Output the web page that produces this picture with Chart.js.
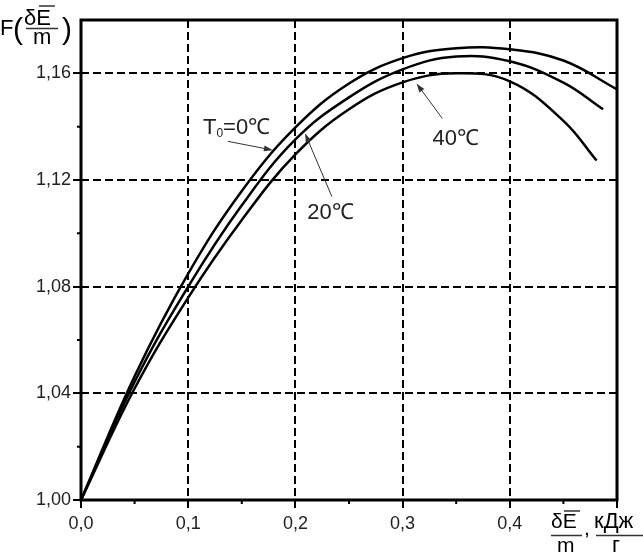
<!DOCTYPE html>
<html>
<head>
<meta charset="utf-8">
<script src="https://cdn.jsdelivr.net/npm/chart.js@4"></script>
<style>
  html, body { margin: 0; padding: 0; background: #fff; }
  canvas { display: block; }
</style>
</head>
<body>
<canvas id="chart" width="643" height="553"></canvas>
<script>
// Dados (δE/m em kJ/g, F adimensional)
const xT0 = [0, 0.05, 0.1, 0.15, 0.2, 0.25, 0.3, 0.35, 0.4, 0.45, 0.5];
const yT0 = [1.000, 1.0464, 1.0849, 1.1159, 1.1397, 1.1562, 1.1657, 1.1694, 1.1690, 1.1648, 1.1540];

const xT20 = [0, 0.05, 0.1, 0.15, 0.2, 0.25, 0.3, 0.35, 0.4, 0.45, 0.487];
const yT20 = [1.000, 1.0443, 1.0800, 1.1105, 1.1352, 1.1510, 1.1615, 1.1663, 1.1645, 1.1565, 1.1465];

const xT40 = [0, 0.05, 0.1, 0.15, 0.2, 0.25, 0.3, 0.35, 0.4, 0.45, 0.481];
const yT40 = [1.000, 1.0418, 1.0759, 1.1050, 1.1296, 1.1465, 1.1566, 1.1600, 1.1570, 1.1422, 1.1273];

const xMinorTicks = [0.05, 0.15, 0.25, 0.35, 0.45];
const yMinorTicks = [1.02, 1.06, 1.10, 1.14];

const FONT = '"Liberation Sans", Arial, sans-serif';

function toPoints(xs, ys) {
    return xs.map((x, i) => ({ x: x, y: ys[i] }));
}

function curve(xs, ys) {
    return {
        data: toPoints(xs, ys),
        borderColor: '#000',
        borderWidth: 2.5,
        pointRadius: 0,
        fill: false,
        tension: 0.4
    };
}

function arrow(ctx, x1, y1, x2, y2) {
    const ang = Math.atan2(y2 - y1, x2 - x1);
    ctx.strokeStyle = '#333';
    ctx.fillStyle = '#333';
    ctx.lineWidth = 1;
    ctx.beginPath();
    ctx.moveTo(x1, y1);
    ctx.lineTo(x2 - 6 * Math.cos(ang), y2 - 6 * Math.sin(ang));
    ctx.stroke();
    ctx.beginPath();
    ctx.moveTo(x2, y2);
    ctx.lineTo(x2 - 9 * Math.cos(ang) + 3 * Math.sin(ang), y2 - 9 * Math.sin(ang) - 3 * Math.cos(ang));
    ctx.lineTo(x2 - 9 * Math.cos(ang) - 3 * Math.sin(ang), y2 - 9 * Math.sin(ang) + 3 * Math.cos(ang));
    ctx.closePath();
    ctx.fill();
}

const decorPlugin = {
    id: 'decor',
    afterDraw(chart) {
        const ctx = chart.ctx;
        const a = chart.chartArea;
        const sx = chart.scales.x;
        const sy = chart.scales.y;
        ctx.save();

        // moldura
        ctx.strokeStyle = '#000';
        ctx.lineWidth = 3;
        ctx.strokeRect(a.left, a.top, a.right - a.left, a.bottom - a.top);

        // ticks menores
        ctx.lineWidth = 2;
        ctx.beginPath();
        xMinorTicks.forEach(v => {
            const px = sx.getPixelForValue(v);
            ctx.moveTo(px, a.bottom);
            ctx.lineTo(px, a.bottom + 4);
        });
        yMinorTicks.forEach(v => {
            const py = sy.getPixelForValue(v);
            ctx.moveTo(a.left, py);
            ctx.lineTo(a.left - 4, py);
        });
        ctx.stroke();

        // rótulos das curvas
        const X = v => sx.getPixelForValue(v);
        const Y = v => sy.getPixelForValue(v);
        ctx.fillStyle = '#222';
        ctx.textBaseline = 'alphabetic';
        ctx.textAlign = 'left';
        let tx = X(0.1138), ty = Y(1.1371);
        ctx.font = '22px ' + FONT;
        ctx.fillText('T', tx, ty);
        tx += ctx.measureText('T').width;
        ctx.font = '12px ' + FONT;
        ctx.fillText('0', tx, ty + 3);
        tx += ctx.measureText('0').width;
        ctx.font = '22px ' + FONT;
        ctx.fillText('=0℃', tx, ty);
        ctx.fillText('20℃', X(0.211), Y(1.1055));
        ctx.fillText('40℃', X(0.328), Y(1.1333));

        arrow(ctx, X(0.137), Y(1.1345), X(0.179), Y(1.1312));
        arrow(ctx, X(0.234), Y(1.1138), X(0.209), Y(1.1375));
        arrow(ctx, X(0.337), Y(1.1431), X(0.313), Y(1.1562));

        // título do eixo Y: F(δĒ/m)
        ctx.fillStyle = '#000';
        ctx.font = '22px ' + FONT;
        ctx.fillText('F', 0, 35);
        ctx.font = '30px ' + FONT;
        ctx.fillText('(', 13, 39);
        ctx.fillText(')', 62, 39);
        ctx.font = '22px ' + FONT;
        ctx.fillText('δE', 24, 25);
        ctx.fillText('m', 33, 44);
        ctx.lineWidth = 1.5;
        ctx.beginPath();
        ctx.moveTo(39, 6); ctx.lineTo(55, 6);
        ctx.moveTo(26, 28.5); ctx.lineTo(58, 28.5);
        ctx.stroke();

        // título do eixo X: δĒ/m, кДж/г
        ctx.font = '21px ' + FONT;
        ctx.fillText('δE', 551, 528);
        ctx.fillText('m', 557, 552);
        ctx.fillText(',', 584, 535);
        ctx.font = '22px ' + FONT;
        ctx.fillText('кДж', 594, 528);
        ctx.fillText('г', 612, 552);
        ctx.beginPath();
        ctx.moveTo(564, 511); ctx.lineTo(580, 511);
        ctx.moveTo(551, 535.5); ctx.lineTo(582, 535.5);
        ctx.moveTo(596, 535.5); ctx.lineTo(643, 535.5);
        ctx.stroke();

        ctx.restore();
    }
};

const fmt = (v, d) => v.toFixed(d).replace('.', ',');

const chart = new Chart(document.getElementById('chart').getContext('2d'), {
    type: 'line',
    data: {
        datasets: [curve(xT0, yT0), curve(xT20, yT20), curve(xT40, yT40)]
    },
    options: {
        responsive: false,
        animation: false,
        layout: { padding: { top: 20, right: 26, left: 0, bottom: 0 } },
        plugins: {
            legend: { display: false },
            tooltip: { enabled: false },
            title: { display: false }
        },
        scales: {
            x: {
                type: 'linear',
                min: 0,
                max: 0.5,
                afterFit: s => { s.height = 53; },
                border: { display: false, dash: [8, 4] },
                grid: {
                    color: '#000',
                    lineWidth: 2,
                    tickLength: 8,
                    tickWidth: 2,
                    tickColor: '#000',
                    tickBorderDash: []
                },
                ticks: {
                    stepSize: 0.1,
                    maxRotation: 0,
                    padding: 5,
                    color: '#222',
                    font: { family: FONT, size: 18 },
                    callback: v => (Math.abs(v - 0.5) < 1e-6 ? '' : fmt(v, 1))
                }
            },
            y: {
                type: 'linear',
                min: 1.0,
                max: 1.18,
                afterFit: s => { s.width = 81; },
                border: { display: false, dash: [8, 4] },
                grid: {
                    color: '#000',
                    lineWidth: 2,
                    tickLength: 8,
                    tickWidth: 2,
                    tickColor: '#000',
                    tickBorderDash: []
                },
                ticks: {
                    stepSize: 0.04,
                    includeBounds: false,
                    padding: 2,
                    color: '#222',
                    font: { family: FONT, size: 18 },
                    callback: v => fmt(v, 2)
                }
            }
        }
    },
    plugins: [decorPlugin]
});
</script>
</body>
</html>
